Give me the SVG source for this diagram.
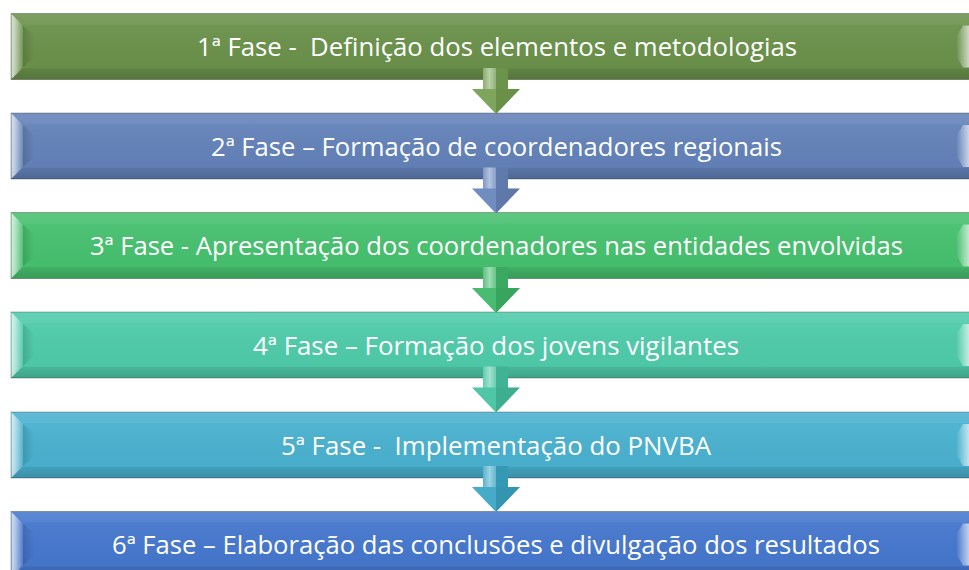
<svg xmlns="http://www.w3.org/2000/svg" xmlns:xlink="http://www.w3.org/1999/xlink" width="969" height="570" viewBox="0 0 969 570">
<defs>
<style>
.lbl{font-family:"Open Sans","Liberation Sans",sans-serif;font-size:25px;fill:#fff;text-anchor:middle}
.edge{stroke:#000;stroke-opacity:.28;stroke-width:1}
</style>
<linearGradient id="gV" x1="0" y1="0" x2="0" y2="1">
<stop offset="0" stop-color="#fff" stop-opacity=".08"/>
<stop offset=".2" stop-color="#fff" stop-opacity=".04"/>
<stop offset=".8" stop-color="#000" stop-opacity=".02"/>
<stop offset="1" stop-color="#000" stop-opacity=".14"/>
</linearGradient>
<linearGradient id="gL" x1="0" y1="0" x2="1" y2="0">
<stop offset="0" stop-color="#fff" stop-opacity=".75"/>
<stop offset=".35" stop-color="#fff" stop-opacity=".55"/>
<stop offset="1" stop-color="#fff" stop-opacity=".05"/>
</linearGradient>
<linearGradient id="gS" x1="0" y1="0" x2="1" y2="0">
<stop offset="0" stop-color="#000" stop-opacity=".14"/>
<stop offset="1" stop-color="#000" stop-opacity="0"/>
</linearGradient>
<linearGradient id="gR" x1="0" y1="0" x2="1" y2="0">
<stop offset="0" stop-color="#fff" stop-opacity=".05"/>
<stop offset=".6" stop-color="#fff" stop-opacity=".45"/>
<stop offset="1" stop-color="#fff" stop-opacity=".7"/>
</linearGradient>
<linearGradient id="aL" x1="0" y1="0" x2="1" y2="0">
<stop offset="0" stop-color="#fff" stop-opacity=".15"/>
<stop offset=".5" stop-color="#fff" stop-opacity=".5"/>
<stop offset="1" stop-color="#fff" stop-opacity=".2"/>
</linearGradient>
<g id="bevel">
<rect x="11" y="0" width="980" height="66" fill="url(#gV)"/>
<polygon points="11,0 991,0 979,11 23,11" fill="#fff" fill-opacity=".05"/>
<polygon points="11,66 991,66 979,55 23,55" fill="#000" fill-opacity=".06"/>
<polygon points="23,12 34,22 34,44 23,54" fill="url(#gS)"/>
<polygon points="11.5,0.5 23,12 23,54 11.5,65.5" fill="url(#gL)"/>
<polygon points="970,12 963,12 957,22 957,44 963,54 970,54" fill="url(#gR)"/>
</g>
<g id="arrow">
<polygon points="-13,0 12,0 12,21 24,21 0,46 -24,21 -13,21" fill="currentColor"/>
<rect x="-13" y="0" width="13" height="21" fill="url(#aL)"/>
<rect x="0" y="0" width="12" height="21" fill="#000" fill-opacity=".08"/>
<polygon points="-13,21 -24,21 0,46 0,21" fill="#fff" fill-opacity=".06"/>
<polygon points="12,21 24,21 0,46 0,21" fill="#000" fill-opacity=".1"/>
</g>
</defs>
<rect width="969" height="570" fill="#fff"/>
<g id="fase1" transform="translate(0,13.5)">
<rect x="11" y="0" width="980" height="66" fill="#6a914b" class="edge"/>
<use xlink:href="#bevel"/>
<text class="lbl" x="497" y="42.5" textLength="600" lengthAdjust="spacingAndGlyphs" xml:space="preserve">1ª Fase -  Definição dos elementos e metodologias</text>
</g>
<g id="fase2" transform="translate(0,113)">
<rect x="11" y="0" width="980" height="66" fill="#6382b8" class="edge"/>
<use xlink:href="#bevel"/>
<text class="lbl" x="496.5" y="42.5" textLength="571" lengthAdjust="spacingAndGlyphs">2ª Fase – Formação de coordenadores regionais</text>
</g>
<g id="fase3" transform="translate(0,212.5)">
<rect x="11" y="0" width="980" height="66" fill="#47c06f" class="edge"/>
<use xlink:href="#bevel"/>
<text class="lbl" x="496.5" y="42.5" textLength="813" lengthAdjust="spacingAndGlyphs">3ª Fase - Apresentação dos coordenadores nas entidades envolvidas</text>
</g>
<g id="fase4" transform="translate(0,312)">
<rect x="11" y="0" width="980" height="66" fill="#4fcbaa" class="edge"/>
<use xlink:href="#bevel"/>
<text class="lbl" x="496" y="42.5" textLength="486" lengthAdjust="spacingAndGlyphs">4ª Fase – Formação dos jovens vigilantes</text>
</g>
<g id="fase5" transform="translate(0,412)">
<rect x="11" y="0" width="980" height="66" fill="#4ab1cf" class="edge"/>
<use xlink:href="#bevel"/>
<text class="lbl" x="496" y="42.5" textLength="430" lengthAdjust="spacingAndGlyphs" xml:space="preserve">5ª Fase -  Implementação do PNVBA</text>
</g>
<g id="fase6" transform="translate(0,511.5)">
<rect x="11" y="0" width="980" height="66" fill="#4677cd" class="edge"/>
<use xlink:href="#bevel"/>
<text class="lbl" x="496" y="42.5" textLength="768" lengthAdjust="spacingAndGlyphs">6ª Fase – Elaboração das conclusões e divulgação dos resultados</text>
</g>
<g id="connectors">
<use xlink:href="#arrow" transform="translate(496,68)" style="color:#76a052"/>
<use xlink:href="#arrow" transform="translate(496,167.5)" style="color:#6886bd"/>
<use xlink:href="#arrow" transform="translate(496,267)" style="color:#3fb86a"/>
<use xlink:href="#arrow" transform="translate(496,366.5)" style="color:#45c3a0"/>
<use xlink:href="#arrow" transform="translate(496,466)" style="color:#3aa6c6"/>
</g>
</svg>
